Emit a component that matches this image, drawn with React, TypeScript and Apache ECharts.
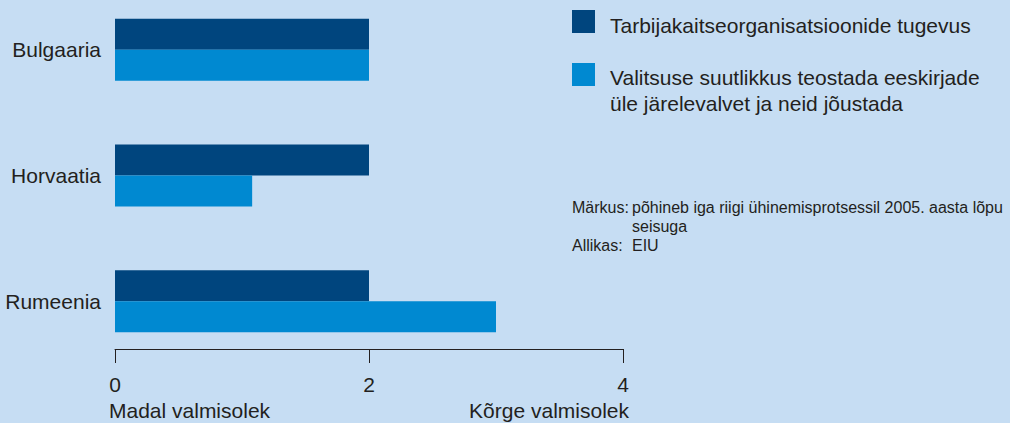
import React, { useEffect, useRef } from "react";
import * as echarts from "echarts";

const categories = ["Bulgaaria", "Horvaatia", "Rumeenia"];
const seriesNames = [
  "Tarbijakaitseorganisatsioonide tugevus",
  "Valitsuse suutlikkus teostada eeskirjade\nüle järelevalvet ja neid jõustada",
];
const consumerProtection = [2, 2, 2];
const governmentCapacity = [2, 1.08, 3];
const xTicks = [0, 2, 4];
const axisEndLabels = ["Madal valmisolek", "Kõrge valmisolek"];
const noteLines = [
  ["Märkus:", "põhineb iga riigi ühinemisprotsessil 2005. aasta lõpu"],
  ["", "seisuga"],
  ["Allikas:", "EIU"],
];

const DARK = "#00457e";
const LIGHT = "#0089d1";
const BG = "#c6ddf3";
const TEXT = "#231f20";
const FONT = "'Liberation Sans', Arial, sans-serif";

export default function App() {
  const ref = useRef<HTMLDivElement>(null);
  useEffect(() => {
    document.body.style.margin = "0";
    const chart = echarts.init(ref.current!, null, { renderer: "svg" });
    const noteGraphics: any[] = [];
    noteLines.forEach((l, i) => {
      const y = 207 + i * 19;
      if (l[0])
        noteGraphics.push({
          type: "text",
          x: 572,
          y,
          style: { text: l[0], fill: TEXT, font: `16px ${FONT}`, textVerticalAlign: "middle" },
        });
      noteGraphics.push({
        type: "text",
        x: 632,
        y,
        style: { text: l[1], fill: TEXT, font: `16px ${FONT}`, textVerticalAlign: "middle" },
      });
    });
    chart.setOption({
      animation: false,
      backgroundColor: BG,
      textStyle: { fontFamily: FONT },
      grid: {
        left: 115,
        top: -13,
        width: 508,
        height: 377,
        containLabel: false,
        outerBoundsMode: "none",
      },
      xAxis: {
        type: "value",
        min: 0,
        max: 4,
        interval: 2,
        offset: -15,
        axisLine: { show: true, lineStyle: { color: TEXT, width: 1 } },
        axisTick: { show: true, length: 14, lineStyle: { color: TEXT } },
        splitLine: { show: false },
        axisLabel: {
          color: TEXT,
          fontSize: 21,
          margin: 25,
          formatter: (v: number) => (xTicks.includes(v) ? String(v) : ""),
        },
      },
      yAxis: {
        type: "category",
        data: categories,
        inverse: true,
        axisLine: { show: false },
        axisTick: { show: false },
        axisLabel: { color: TEXT, fontSize: 21, margin: 14 },
      },
      series: [
        {
          type: "bar",
          name: seriesNames[0],
          data: consumerProtection,
          barWidth: 31,
          barGap: "0%",
          itemStyle: { color: DARK },
        },
        {
          type: "bar",
          name: seriesNames[1],
          data: governmentCapacity,
          barWidth: 31,
          barGap: "0%",
          itemStyle: { color: LIGHT },
        },
      ],
      graphic: [
        { type: "rect", shape: { x: 572, y: 10, width: 23, height: 23 }, style: { fill: DARK } },
        {
          type: "text",
          x: 610,
          y: 25,
          style: { text: seriesNames[0], fill: TEXT, font: `21px ${FONT}`, textVerticalAlign: "middle" },
        },
        { type: "rect", shape: { x: 572, y: 63, width: 23, height: 23 }, style: { fill: LIGHT } },
        {
          type: "text",
          x: 610,
          y: 64,
          style: { text: seriesNames[1], fill: TEXT, font: `21px ${FONT}`, lineHeight: 26 },
        },
        {
          type: "text",
          x: 109,
          y: 410,
          style: { text: axisEndLabels[0], fill: TEXT, font: `21px ${FONT}`, textVerticalAlign: "middle" },
        },
        {
          type: "text",
          x: 629,
          y: 410,
          style: {
            text: axisEndLabels[1],
            fill: TEXT,
            font: `21px ${FONT}`,
            textAlign: "right",
            textVerticalAlign: "middle",
          },
        },
        ...noteGraphics,
      ],
    });
    return () => chart.dispose();
  }, []);
  return <div ref={ref} style={{ width: 1010, height: 423 }} />;
}
